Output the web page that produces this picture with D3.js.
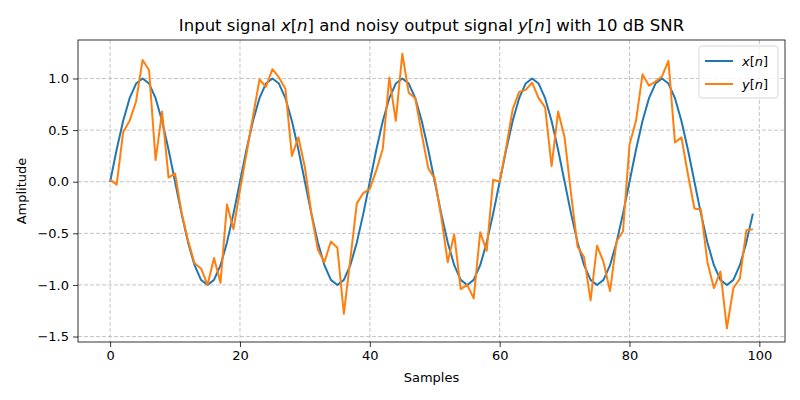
<!DOCTYPE html>
<html><head><meta charset="utf-8">
<script src="https://cdn.jsdelivr.net/npm/d3@7"></script>
<style>body{margin:0;background:#fff}svg{display:block;font-family:"DejaVu Sans",sans-serif}</style>
</head><body><svg id="c" width="800" height="400"></svg>
<script>
const samples = d3.range(0, 100);
const xSignal = [
 0,0.309,0.588,0.809,0.951,1,0.951,0.809,0.588,0.309,0,-0.309,-0.588,-0.809,-0.951,-1,-0.951,-0.809,-0.588,-0.309,
 0,0.309,0.588,0.809,0.951,1,0.951,0.809,0.588,0.309,0,-0.309,-0.588,-0.809,-0.951,-1,-0.951,-0.809,-0.588,-0.309,
 0,0.309,0.588,0.809,0.951,1,0.951,0.809,0.588,0.309,0,-0.309,-0.588,-0.809,-0.951,-1,-0.951,-0.809,-0.588,-0.309,
 0,0.309,0.588,0.809,0.951,1,0.951,0.809,0.588,0.309,0,-0.309,-0.588,-0.809,-0.951,-1,-0.951,-0.809,-0.588,-0.309,
 0,0.309,0.588,0.809,0.951,1,0.951,0.809,0.588,0.309,0,-0.309,-0.588,-0.809,-0.951,-1,-0.951,-0.809,-0.588,-0.309];
const ySignal = [
 0.02,-0.03,0.48,0.59,0.78,1.18,1.08,0.21,0.68,0.04,0.08,-0.30,-0.57,-0.79,-0.84,-1.00,-0.74,-0.98,-0.22,-0.46,
 -0.08,0.27,0.63,0.99,0.92,1.09,1.01,0.90,0.25,0.43,0.14,-0.31,-0.66,-0.78,-0.58,-0.64,-1.28,-0.75,-0.21,-0.11,
 -0.07,0.11,0.32,1.01,0.59,1.24,0.86,0.81,0.46,0.13,0.03,-0.34,-0.78,-0.51,-1.04,-1.00,-1.13,-0.49,-0.67,0.02,
 0.00,0.33,0.70,0.87,0.89,0.96,0.81,0.72,0.15,0.68,0.43,-0.12,-0.63,-0.73,-1.15,-0.62,-0.78,-1.06,-0.58,-0.48,
 0.36,0.59,1.04,0.93,0.97,1.02,1.17,0.38,0.43,0.07,-0.26,-0.27,-0.78,-1.03,-0.87,-1.42,-1.03,-0.94,-0.47,-0.46];
const xTicks = [0,20,40,60,80,100];
const yTicks = [-1.5,-1.0,-0.5,0.0,0.5,1.0];

const svg = d3.select("#c");
const L=78,R=785,T=40,B=342;
const xr = d3.extent(samples), xpad=(xr[1]-xr[0])*0.05;
const allY = xSignal.concat(ySignal), yr=d3.extent(allY), ypad=(yr[1]-yr[0])*0.05;
const x = d3.scaleLinear().domain([xr[0]-xpad, xr[1]+xpad]).range([L,R]);
const y = d3.scaleLinear().domain([yr[0]-ypad, yr[1]+ypad]).range([B,T]);

// grid
const g = svg.append("g");
g.selectAll(".gx").data(xTicks).join("line")
 .attr("x1",d=>x(d)).attr("x2",d=>x(d)).attr("y1",T).attr("y2",B)
 .attr("stroke","#b0b0b0").attr("stroke-width",0.8).attr("stroke-dasharray","4,2").attr("opacity",0.9);
g.selectAll(".gy").data(yTicks).join("line")
 .attr("y1",d=>y(d)).attr("y2",d=>y(d)).attr("x1",L).attr("x2",R)
 .attr("stroke","#b0b0b0").attr("stroke-width",0.8).attr("stroke-dasharray","4,2").attr("opacity",0.9);

const line = vals => d3.line().x((d,i)=>x(samples[i])).y(d=>y(d))(vals);
svg.append("path").attr("d",line(xSignal)).attr("fill","none").attr("stroke","#1f77b4").attr("stroke-width",2).attr("stroke-linejoin","round");
svg.append("path").attr("d",line(ySignal)).attr("fill","none").attr("stroke","#ff7f0e").attr("stroke-width",2).attr("stroke-linejoin","round");

const fmt = d => d3.format(".1f")(d).replace("-","\u2212");
const xa = svg.append("g").attr("transform",`translate(0,${B})`).call(d3.axisBottom(x).tickValues(xTicks).tickSize(5).tickPadding(4).tickFormat(d3.format("d")));
const ya = svg.append("g").attr("transform",`translate(${L},0)`).call(d3.axisLeft(y).tickValues(yTicks).tickSize(5).tickPadding(4).tickFormat(fmt));
[xa,ya].forEach(a=>{a.select(".domain").remove();a.selectAll("text").attr("font-size",13).attr("font-family","DejaVu Sans").attr("fill","#000");a.selectAll("line").attr("stroke","#000").attr("stroke-width",0.8);});
svg.append("rect").attr("x",L).attr("y",T).attr("width",R-L).attr("height",B-T).attr("fill","none").attr("stroke","#000").attr("stroke-width",0.8);

// title
const t = svg.append("text").attr("x",(L+R)/2).attr("y",31).attr("text-anchor","middle").attr("font-size",16.5);
const parts=[["Input signal ",0],["x",1],["[",0],["n",1],["] and noisy output signal ",0],["y",1],["[",0],["n",1],["] with 10 dB SNR",0]];
parts.forEach(p=>t.append("tspan").text(p[0]).attr("font-style",p[1]?"italic":null));
svg.append("text").attr("x",(L+R)/2).attr("y",382).attr("text-anchor","middle").attr("font-size",13).text("Samples");
svg.append("text").attr("transform",`translate(26,${(T+B)/2}) rotate(-90)`).attr("text-anchor","middle").attr("font-size",13).text("Amplitude");

// legend
const lg = svg.append("g");
lg.append("rect").attr("x",699).attr("y",46).attr("width",79).attr("height",52).attr("rx",3).attr("fill","#fff").attr("fill-opacity",0.8).attr("stroke","#ccc").attr("stroke-width",0.8);
const items=[["x","#1f77b4"],["y","#ff7f0e"]];
items.forEach((it,i)=>{
 const yy=61+i*23;
 lg.append("line").attr("x1",705).attr("x2",733).attr("y1",yy).attr("y2",yy).attr("stroke",it[1]).attr("stroke-width",2);
 const tx=lg.append("text").attr("x",742).attr("y",yy+5).attr("font-size",13);
 tx.append("tspan").text(it[0]).attr("font-style","italic");
 tx.append("tspan").text("[");
 tx.append("tspan").text("n").attr("font-style","italic");
 tx.append("tspan").text("]");
});
</script></body></html>
